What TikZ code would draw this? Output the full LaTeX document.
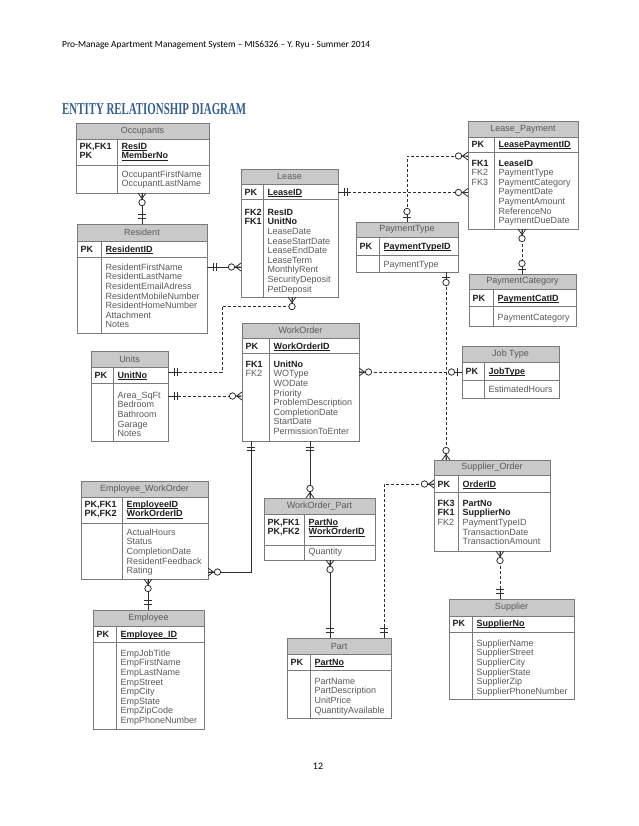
\documentclass[tikz,border=0pt]{standalone}
\usepackage{fontspec}
\setmainfont{Liberation Sans}
\newfontfamily\calib{Carlito}
\newfontfamily\headserif{Liberation Serif}
\usetikzlibrary{calc}
\definecolor{hdrfill}{HTML}{C9C9C9}
\definecolor{boxline}{HTML}{7A7A7A}
\definecolor{attrgray}{HTML}{5A5A5A}
\definecolor{keyblack}{HTML}{1E1E1E}
\definecolor{linecol}{HTML}{2E2E2E}
\definecolor{titleblue}{HTML}{365F91}
\newcommand\pkey[1]{{\color{keyblack}\bfseries\underline{\smash{#1}}}}
\newcommand\bkey[1]{{\color{keyblack}\bfseries #1}}
\tikzset{
 entbox/.style={draw=none, inner sep=0pt, outer sep=0pt},
 enttitle/.style={inner sep=0pt, text=attrgray, font=\fontsize{9}{9.6}\selectfont},
 txt/.style={inner sep=0pt, text=attrgray, font=\fontsize{9}{9.6}\selectfont, anchor=base west},
 conn/.style={draw=linecol, line width=0.8pt},
 dconn/.style={conn, dash pattern=on 3pt off 2pt},
 zmany/.pic={\draw[conn] (0,-4) -- (5.5,0) -- (0,4) (0,0) -- (6,0);
             \draw[conn, fill=white] (9.5,0) circle[radius=3.2];},
 zone/.pic={\draw[conn] (5,-4) -- (5,4) (0,0) -- (7,0);
            \draw[conn, fill=white] (10.5,0) circle[radius=3.2];},
 only/.pic={\draw[conn] (0,0) -- (11,0) (6,-4) -- (6,4) (9.5,-4) -- (9.5,4);},
}
% #1 name #2 x1 #3 y1 #4 x2 #5 y2 #6 header bottom #7 pk bottom #8 divider x #9 title
\newcommand\ent[9]{%
  \node[entbox, minimum width={(#4-#2)*1pt}, minimum height={(#5-#3)*1pt}, anchor=north west] (#1) at (#2,#3) {};
  \fill[hdrfill] (#2,#3) rectangle (#4,#6);
  \draw[boxline, line width=0.8pt] (#2,#3) rectangle (#4,#5) (#2,#6) -- (#4,#6) (#2,#7) -- (#4,#7) (#8,#6) -- (#8,#5);
  \node[enttitle] (#1-title) at ({(#2+#4)/2},{(#3+#6)/2}) {#9};
}
% #1 name prefix #2 x #3 centre y of first line #4 list
\newcommand\rows[4]{%
  \foreach \t [count=\i] in {#4} \node[txt] (#1-\i) at (#2,{#3+3.2+(\i-1)*9.6}) {\t};
}
\begin{document}
\begin{tikzpicture}[x=1pt,y=-1pt]
\useasboundingbox (0,0) rectangle (638,826);
\fill[white] (0,0) rectangle (638,826);

\node[anchor=west, inner sep=0pt] (hdr) at (62,45) {\resizebox{308pt}{!}{\calib\fontsize{10}{12}\selectfont Pro-Manage Apartment Management System – MIS6326 – Y. Ryu - Summer 2014}};
\node[anchor=west, inner sep=0pt, text=titleblue] (ttl) at (62,109) {\resizebox{184pt}{11pt}{\headserif\bfseries ENTITY RELATIONSHIP DIAGRAM}};
\node[inner sep=0pt, font=\calib\fontsize{10}{12}\selectfont] (pg) at (318,766) {12};

% ---------------- entities ----------------
\ent{occ}{76}{123}{209}{193}{139}{165}{117}{Occupants}
\rows{occ-k}{79.5}{146}{\bkey{PK,FK1},\bkey{PK}}
\rows{occ-p}{121.5}{146}{\pkey{ResID},\pkey{MemberNo}}
\rows{occ-a}{121.5}{174}{OccupantFirstName,OccupantLastName}

\ent{res}{77}{224}{207}{333}{241}{257}{101}{Resident}
\rows{res-k}{80.5}{249}{\bkey{PK}}
\rows{res-p}{105.5}{249}{\pkey{ResidentID}}
\rows{res-a}{105.5}{267}{ResidentFirstName,ResidentLastName,ResidentEmailAdress,ResidentMobileNumber,ResidentHomeNumber,Attachment,Notes}

\ent{lease}{241}{169}{338}{297}{184}{199}{263}{Lease}
\rows{lease-k}{244.5}{192}{\bkey{PK}}
\rows{lease-p}{267.5}{192}{\pkey{LeaseID}}
\rows{lease-f}{244.5}{212}{\bkey{FK2},\bkey{FK1}}
\rows{lease-a}{267.5}{212}{\bkey{ResID},\bkey{UnitNo},LeaseDate,LeaseStartDate,LeaseEndDate,LeaseTerm,MonthlyRent,SecurityDeposit,PetDeposit}

\ent{lp}{468}{121}{578}{229}{137}{152}{494}{Lease\_Payment}
\rows{lp-k}{471.5}{144}{\bkey{PK}}
\rows{lp-p}{498.5}{144}{\pkey{LeasePaymentID}}
\rows{lp-f}{471.5}{163}{\bkey{FK1},FK2,FK3}
\rows{lp-a}{498.5}{163}{\bkey{LeaseID},PaymentType,PaymentCategory,PaymentDate,PaymentAmount,ReferenceNo,PaymentDueDate}

\ent{pt}{356}{222}{458}{272}{237}{255}{379}{PaymentType}
\rows{pt-k}{359.5}{246}{\bkey{PK}}
\rows{pt-p}{383.5}{246}{\pkey{PaymentTypeID}}
\rows{pt-a}{383.5}{264}{PaymentType}

\ent{pc}{469}{274}{576}{326}{289}{306}{493}{PaymentCategory}
\rows{pc-k}{472.5}{298}{\bkey{PK}}
\rows{pc-p}{497.5}{298}{\pkey{PaymentCatID}}
\rows{pc-a}{497.5}{317}{PaymentCategory}

\ent{units}{91}{351}{168}{441}{367}{383}{113}{Units}
\rows{units-k}{94.5}{375}{\bkey{PK}}
\rows{units-p}{117.5}{375}{\pkey{UnitNo}}
\rows{units-a}{117.5}{395}{Area\_SqFt,Bedroom,Bathroom,Garage,Notes}

\ent{wo}{242}{323}{359}{441}{338}{353}{269}{WorkOrder}
\rows{wo-k}{245.5}{346}{\bkey{PK}}
\rows{wo-p}{273.5}{346}{\pkey{WorkOrderID}}
\rows{wo-f}{245.5}{364}{\bkey{FK1},FK2}
\rows{wo-a}{273.5}{364}{\bkey{UnitNo},WOType,WODate,Priority,ProblemDescription,CompletionDate,StartDate,PermissionToEnter}

\ent{jt}{462}{346}{559}{398}{362}{380}{484}{Job Type}
\rows{jt-k}{465.5}{371}{\bkey{PK}}
\rows{jt-p}{488.5}{371}{\pkey{JobType}}
\rows{jt-a}{488.5}{389}{EstimatedHours}

\ent{so}{434}{460}{550}{551}{475}{492}{458}{Supplier\_Order}
\rows{so-k}{437.5}{484}{\bkey{PK}}
\rows{so-p}{462.5}{484}{\pkey{OrderID}}
\rows{so-f}{437.5}{503}{\bkey{FK3},\bkey{FK1},FK2}
\rows{so-a}{462.5}{503}{\bkey{PartNo},\bkey{SupplierNo},PaymentTypeID,TransactionDate,TransactionAmount}

\ent{sup}{449}{599}{574}{699}{616}{632}{472}{Supplier}
\rows{sup-k}{452.5}{623}{\bkey{PK}}
\rows{sup-p}{476.5}{623}{\pkey{SupplierNo}}
\rows{sup-a}{476.5}{643}{SupplierName,SupplierStreet,SupplierCity,SupplierState,SupplierZip,SupplierPhoneNumber}

\ent{ewo}{81}{481}{208}{579}{497}{523}{122}{Employee\_WorkOrder}
\rows{ewo-k}{84.5}{504}{\bkey{PK,FK1},\bkey{PK,FK2}}
\rows{ewo-p}{126.5}{504}{\pkey{EmployeeID},\pkey{WorkOrderID}}
\rows{ewo-a}{126.5}{532}{ActualHours,Status,CompletionDate,ResidentFeedback,Rating}

\ent{wop}{264}{498}{375}{560}{514}{545}{304}{WorkOrder\_Part}
\rows{wop-k}{267.5}{522}{\bkey{PK,FK1},\bkey{PK,FK2}}
\rows{wop-p}{308.5}{522}{\pkey{PartNo},\pkey{WorkOrderID}}
\rows{wop-a}{308.5}{551}{Quantity}

\ent{emp}{93}{610}{204}{729}{626}{642}{116}{Employee}
\rows{emp-k}{96.5}{634}{\bkey{PK}}
\rows{emp-p}{120.5}{634}{\pkey{Employee\_ID}}
\rows{emp-a}{120.5}{653}{EmpJobTitle,EmpFirstName,EmpLastName,EmpStreet,EmpCity,EmpState,EmpZipCode,EmpPhoneNumber}

\ent{part}{287}{638}{391}{718}{654}{670}{310}{Part}
\rows{part-k}{290.5}{662}{\bkey{PK}}
\rows{part-p}{314.5}{662}{\pkey{PartNo}}
\rows{part-a}{314.5}{681}{PartName,PartDescription,UnitPrice,QuantityAvailable}

% ---------------- connectors ----------------
% Occupants - Resident
\draw[conn] (142,0 |- occ.south) -- (142,0 |- res.north);
\pic[rotate=-90] at (142,0 |- occ.south) {zmany};
\pic[rotate=90] at (142,0 |- res.north) {only};
% Resident - Lease
\draw[conn] (res.east |- 0,267) -- (lease.west |- 0,267);
\pic at (res.east |- 0,267) {only};
\pic[rotate=180] at (lease.west |- 0,267) {zmany};
% Lease - Lease_Payment
\draw[dconn] (lease.east |- 0,192.5) -- (lp.west |- 0,192.5);
\pic at (lease.east |- 0,192.5) {only};
\pic[rotate=180] at (lp.west |- 0,192.5) {zmany};
% PaymentType - Lease_Payment
\draw[dconn] (407,0 |- pt.north) -- (407,156) -- (lp.west |- 0,156);
\pic[rotate=90] at (407,0 |- pt.north) {zone};
\pic[rotate=180] at (lp.west |- 0,156) {zmany};
% Lease_Payment - PaymentCategory
\draw[dconn] (522,0 |- lp.south) -- (522,0 |- pc.north);
\pic[rotate=-90] at (522,0 |- lp.south) {zmany};
\pic[rotate=90] at (522,0 |- pc.north) {zone};
% Lease - Units
\draw[dconn] (292,0 |- lease.south) -- (292,306) -- (222,306) -- (222,372) -- (units.east |- 0,372);
\pic[rotate=-90] at (292,0 |- lease.south) {zmany};
\pic at (units.east |- 0,372) {only};
% Units - WorkOrder
\draw[dconn] (units.east |- 0,396) -- (wo.west |- 0,396);
\pic at (units.east |- 0,396) {only};
\pic[rotate=180] at (wo.west |- 0,396) {zmany};
% WorkOrder - Job Type
\draw[dconn] (wo.east |- 0,372) -- (jt.west |- 0,372);
\pic at (wo.east |- 0,372) {zmany};
\pic[rotate=180] at (jt.west |- 0,372) {zone};
% PaymentType - Supplier_Order
\draw[dconn] (446,0 |- pt.south) -- (446,0 |- so.north);
\pic[rotate=-90] at (446,0 |- pt.south) {zone};
\pic[rotate=90] at (446,0 |- so.north) {zmany};
% Supplier_Order - Supplier
\draw[dconn] (500,0 |- so.south) -- (500,0 |- sup.north);
\pic[rotate=-90] at (500,0 |- so.south) {zmany};
\pic[rotate=90] at (500,0 |- sup.north) {only};
% Part - Supplier_Order
\draw[dconn] (so.west |- 0,484) -- (384,484) -- (384,0 |- part.north);
\pic[rotate=180] at (so.west |- 0,484) {zmany};
\pic[rotate=90] at (384,0 |- part.north) {only};
% WorkOrder - Employee_WorkOrder
\draw[conn] (251,0 |- wo.south) -- (251,572) -- (ewo.east |- 0,572);
\pic[rotate=-90] at (251,0 |- wo.south) {only};
\pic at (ewo.east |- 0,572) {zmany};
% WorkOrder - WorkOrder_Part
\draw[conn] (310,0 |- wo.south) -- (310,0 |- wop.north);
\pic[rotate=-90] at (310,0 |- wo.south) {only};
\pic[rotate=90] at (310,0 |- wop.north) {zmany};
% WorkOrder_Part - Part
\draw[conn] (330,0 |- wop.south) -- (330,0 |- part.north);
\pic[rotate=-90] at (330,0 |- wop.south) {zmany};
\pic[rotate=90] at (330,0 |- part.north) {only};
% Employee_WorkOrder - Employee
\draw[conn] (148,0 |- ewo.south) -- (148,0 |- emp.north);
\pic[rotate=-90] at (148,0 |- ewo.south) {zmany};
\pic[rotate=90] at (148,0 |- emp.north) {only};
\end{tikzpicture}
\end{document}
